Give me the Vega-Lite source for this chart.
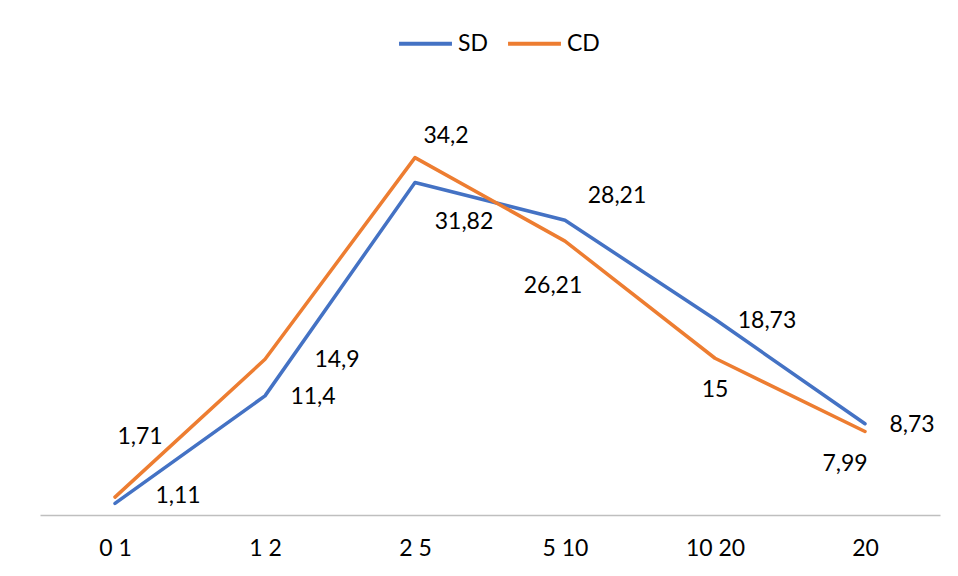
{
  "$schema": "https://vega.github.io/schema/vega-lite/v6.json",
  "autosize": {"type": "none"},
  "width": 900,
  "height": 418,
  "padding": {"left": 40, "top": 97, "right": 18, "bottom": 61},
  "background": "white",
  "config": {
    "view": {"stroke": null},
    "font": "Lato",
    "text": {"fontSize": 23, "font": "Lato"},
    "locale": {"number": {"decimal": ",", "thousands": ".", "grouping": [3], "currency": ["", " €"]}}
  },
  "data": {
    "values": [
      {"cat": "0 1", "series": "SD", "value": 1.11},
      {"cat": "1 2", "series": "SD", "value": 11.4},
      {"cat": "2 5", "series": "SD", "value": 31.82},
      {"cat": "5 10", "series": "SD", "value": 28.21},
      {"cat": "10 20", "series": "SD", "value": 18.73},
      {"cat": "20", "series": "SD", "value": 8.73},
      {"cat": "0 1", "series": "CD", "value": 1.71},
      {"cat": "1 2", "series": "CD", "value": 14.9},
      {"cat": "2 5", "series": "CD", "value": 34.2},
      {"cat": "5 10", "series": "CD", "value": 26.21},
      {"cat": "10 20", "series": "CD", "value": 15},
      {"cat": "20", "series": "CD", "value": 7.99}
    ]
  },
  "encoding": {
    "x": {
      "field": "cat", "type": "ordinal",
      "sort": ["0 1", "1 2", "2 5", "5 10", "10 20", "20"],
      "scale": {"type": "point", "padding": 0.5},
      "axis": {"title": null, "labelAngle": 0, "labelFontSize": 23, "labelColor": "#000000", "labelFont": "Lato", "labelPadding": 22, "ticks": false, "domainColor": "#bfbfbf", "domainWidth": 1.5, "grid": false}
    },
    "y": {
      "field": "value", "type": "quantitative",
      "scale": {"domain": [0, 40], "nice": false},
      "axis": null
    }
  },
  "layer": [
    {
      "mark": {"type": "line", "strokeWidth": 3.5, "strokeCap": "round", "strokeJoin": "round"},
      "encoding": {
        "color": {
          "field": "series", "type": "nominal",
          "scale": {"domain": ["SD", "CD"], "range": ["#4472C4", "#ED7D31"]},
          "legend": {
            "title": null, "orient": "none", "direction": "horizontal",
            "legendX": 357, "legendY": -82,
            "symbolType": "stroke", "symbolStrokeWidth": 4, "symbolSize": 2800,
            "labelFontSize": 23, "labelFont": "Lato", "labelColor": "#000000",
            "labelOffset": 4, "columnPadding": 12
          }
        }
      }
    },
    {"transform": [{"filter": "datum.series=='SD' && datum.cat=='0 1'"}], "mark": {"type": "text", "dx": 63, "dy": -7}, "encoding": {"text": {"field": "value", "type": "quantitative", "format": "~g"}}},
    {"transform": [{"filter": "datum.series=='SD' && datum.cat=='1 2'"}], "mark": {"type": "text", "dx": 48, "dy": 1}, "encoding": {"text": {"field": "value", "type": "quantitative", "format": "~g"}}},
    {"transform": [{"filter": "datum.series=='SD' && datum.cat=='2 5'"}], "mark": {"type": "text", "dx": 49, "dy": 40}, "encoding": {"text": {"field": "value", "type": "quantitative", "format": "~g"}}},
    {"transform": [{"filter": "datum.series=='SD' && datum.cat=='5 10'"}], "mark": {"type": "text", "dx": 52, "dy": -24}, "encoding": {"text": {"field": "value", "type": "quantitative", "format": "~g"}}},
    {"transform": [{"filter": "datum.series=='SD' && datum.cat=='10 20'"}], "mark": {"type": "text", "dx": 52, "dy": 2}, "encoding": {"text": {"field": "value", "type": "quantitative", "format": "~g"}}},
    {"transform": [{"filter": "datum.series=='SD' && datum.cat=='20'"}], "mark": {"type": "text", "dx": 47, "dy": 1}, "encoding": {"text": {"field": "value", "type": "quantitative", "format": "~g"}}},
    {"transform": [{"filter": "datum.series=='CD' && datum.cat=='0 1'"}], "mark": {"type": "text", "dx": 25, "dy": -60}, "encoding": {"text": {"field": "value", "type": "quantitative", "format": "~g"}}},
    {"transform": [{"filter": "datum.series=='CD' && datum.cat=='1 2'"}], "mark": {"type": "text", "dx": 72, "dy": 1}, "encoding": {"text": {"field": "value", "type": "quantitative", "format": "~g"}}},
    {"transform": [{"filter": "datum.series=='CD' && datum.cat=='2 5'"}], "mark": {"type": "text", "dx": 31, "dy": -22}, "encoding": {"text": {"field": "value", "type": "quantitative", "format": "~g"}}},
    {"transform": [{"filter": "datum.series=='CD' && datum.cat=='5 10'"}], "mark": {"type": "text", "dx": -12, "dy": 45}, "encoding": {"text": {"field": "value", "type": "quantitative", "format": "~g"}}},
    {"transform": [{"filter": "datum.series=='CD' && datum.cat=='10 20'"}], "mark": {"type": "text", "dx": 0, "dy": 32}, "encoding": {"text": {"field": "value", "type": "quantitative", "format": "~g"}}},
    {"transform": [{"filter": "datum.series=='CD' && datum.cat=='20'"}], "mark": {"type": "text", "dx": -20, "dy": 32}, "encoding": {"text": {"field": "value", "type": "quantitative", "format": "~g"}}}
  ]
}
